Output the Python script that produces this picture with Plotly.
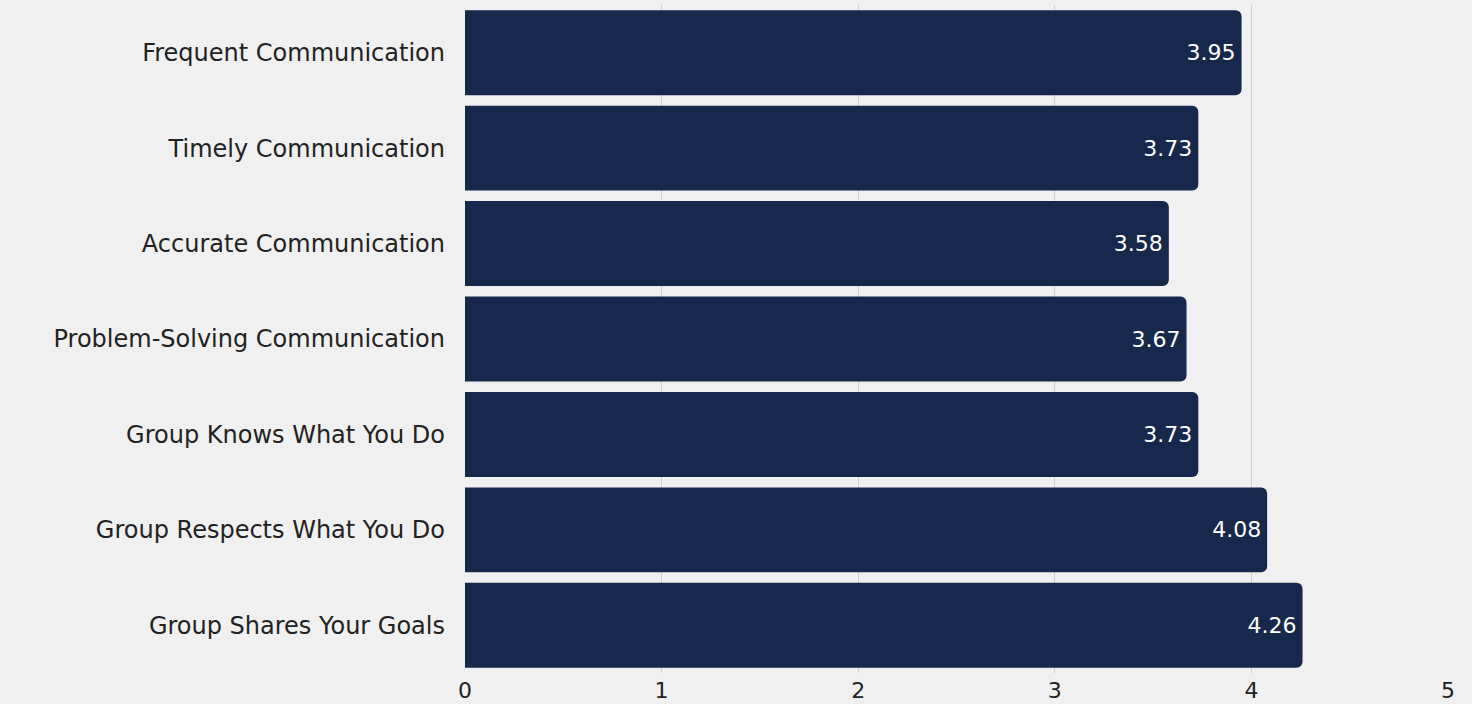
import plotly.graph_objects as go

categories = [
    "Frequent Communication",
    "Timely Communication",
    "Accurate Communication",
    "Problem-Solving Communication",
    "Group Knows What You Do",
    "Group Respects What You Do",
    "Group Shares Your Goals",
]
values = [3.95, 3.73, 3.58, 3.67, 3.73, 4.08, 4.26]
x_ticks = [0, 1, 2, 3, 4, 5]

FONT = "DejaVu Sans"
BAR = "#16284b"
TXT = "#222222"

fig = go.Figure(
    go.Bar(
        x=values,
        y=categories,
        orientation="h",
        marker=dict(color=BAR, line=dict(width=0)),
        text=[f"{v:.2f}" for v in values],
        textposition="inside",
        insidetextanchor="end",
        textfont=dict(family=FONT, size=22, color="#ffffff"),
        hoverinfo="skip",
    )
)

fig.update_layout(
    width=1472,
    height=704,
    margin=dict(l=465, r=24, t=5, b=31, autoexpand=False),
    paper_bgcolor="#f0f0f0",
    plot_bgcolor="#f0f0f0",
    bargap=0.11,
    barcornerradius=6,
    showlegend=False,
    font=dict(family=FONT, size=22, color=TXT),
)

fig.update_xaxes(
    range=[0, 5],
    tickvals=x_ticks,
    ticktext=[str(t) for t in x_ticks],
    showgrid=True,
    gridcolor="#cfcfcf",
    gridwidth=1,
    zeroline=False,
    showline=False,
    automargin=False,
    ticklabelstandoff=2,
    tickfont=dict(family=FONT, size=22, color=TXT),
    fixedrange=True,
)

fig.update_yaxes(
    autorange="reversed",
    showgrid=False,
    showline=False,
    zeroline=False,
    automargin=False,
    ticklabelstandoff=19,
    tickfont=dict(family=FONT, size=24, color=TXT),
    fixedrange=True,
)

fig.write_html("out.html")
